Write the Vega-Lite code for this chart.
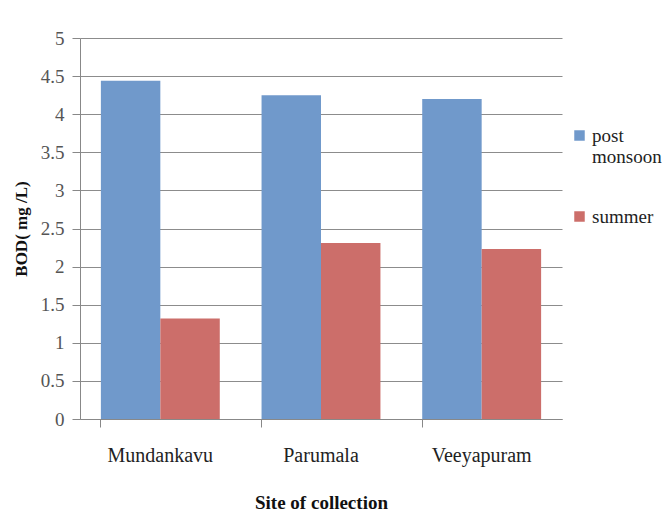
{
  "$schema": "https://vega.github.io/schema/vega-lite/v6.json",
  "width": 482,
  "height": 381,
  "autosize": {"type": "none"},
  "padding": {"left": 80, "top": 38, "right": 103, "bottom": 106},
  "background": "white",
  "data": {
    "values": [
      {"site": "Mundankavu", "season": "post monsoon", "bod": 4.44},
      {"site": "Mundankavu", "season": "summer", "bod": 1.32},
      {"site": "Parumala", "season": "post monsoon", "bod": 4.25},
      {"site": "Parumala", "season": "summer", "bod": 2.31},
      {"site": "Veeyapuram", "season": "post monsoon", "bod": 4.2},
      {"site": "Veeyapuram", "season": "summer", "bod": 2.23}
    ]
  },
  "mark": {"type": "bar"},
  "encoding": {
    "x": {
      "field": "site",
      "type": "nominal",
      "sort": ["Mundankavu", "Parumala", "Veeyapuram"],
      "scale": {"paddingInner": 0.26, "paddingOuter": 0.13},
      "axis": {
        "title": "Site of collection",
        "titleFont": "Liberation Serif",
        "titleFontSize": 19,
        "titleFontWeight": "bold",
        "titleColor": "#111",
        "titlePadding": 28,
        "labelAngle": 0,
        "labelFont": "Liberation Serif",
        "labelFontSize": 20,
        "labelColor": "#222",
        "labelPadding": 18,
        "bandPosition": 0,
        "tickSize": 8,
        "tickColor": "#888",
        "domainColor": "#888",
        "grid": false
      }
    },
    "xOffset": {
      "field": "season",
      "type": "nominal",
      "scale": {"paddingInner": 0, "paddingOuter": 0}
    },
    "y": {
      "field": "bod",
      "type": "quantitative",
      "scale": {"domain": [0, 5], "nice": false},
      "axis": {
        "title": "BOD( mg /L)",
        "titleFont": "Liberation Serif",
        "titleFontSize": 17,
        "titleFontWeight": "bold",
        "titleColor": "#111",
        "titlePadding": 10,
        "values": [0, 0.5, 1, 1.5, 2, 2.5, 3, 3.5, 4, 4.5, 5],
        "format": "~g",
        "labelFont": "Liberation Serif",
        "labelFontSize": 19,
        "labelColor": "#555",
        "labelPadding": 8,
        "tickSize": 8,
        "tickColor": "#888",
        "domainColor": "#888",
        "gridColor": "#8c8c8c",
        "gridWidth": 1
      }
    },
    "color": {
      "field": "season",
      "type": "nominal",
      "scale": {"domain": ["post monsoon", "summer"], "range": ["#7099cb", "#cc6e6a"]},
      "legend": {
        "title": null,
        "orient": "none",
        "legendX": 490,
        "legendY": 88,
        "symbolType": "square",
        "symbolSize": 110,
        "symbolStrokeWidth": 0,
        "symbolOpacity": 1,
        "labelFont": "Liberation Serif",
        "labelFontSize": 19,
        "labelColor": "#222",
        "labelOffset": 3,
        "rowPadding": 40,
        "labelExpr": "datum.label == 'post monsoon' ? ['post', 'monsoon'] : datum.label"
      }
    }
  },
  "config": {
    "font": "Liberation Serif",
    "view": {"stroke": null}
  }
}
